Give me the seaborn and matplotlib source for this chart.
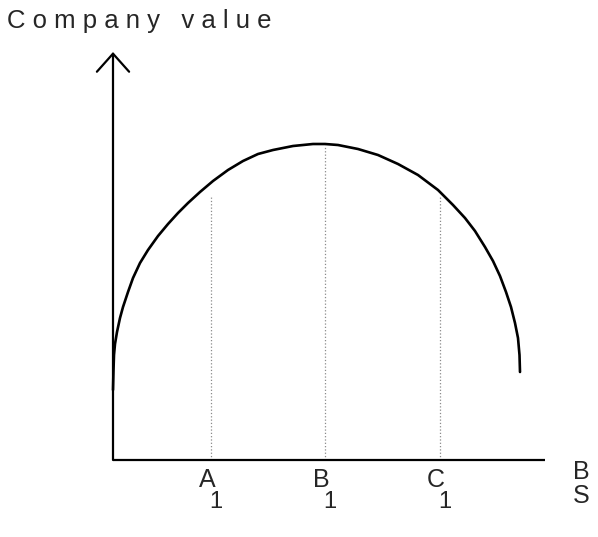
import numpy as np
import seaborn as sns
import matplotlib.pyplot as plt

# curve: x = distance along the axis, y = company value
curve_x = [0, 0.5, 1, 2, 4, 7, 10, 15, 20, 27, 35, 45, 55, 65, 75, 87, 100, 115,
           130, 145, 160, 180, 200, 212, 225, 245, 265, 285, 305, 325, 340, 352,
           362, 372, 380, 387, 393, 398, 402, 405, 406.5, 407]
curve_y = [70, 90, 105, 116, 128, 142, 153, 168, 182, 197, 210, 224, 236, 247, 257,
           268, 279, 290, 299, 306, 310, 314, 316, 316, 315, 311, 305, 296, 285,
           270, 255, 242, 229, 213, 199, 184, 168, 153, 137, 122, 105, 88]

# dotted markers on the x axis
mark_x = [98, 212, 327]
mark_top = [265, 315, 265]
mark_names = ["A", "B", "C"]

x_axis_end = 432
y_axis_end = 408

sns.set_theme(style="white")
plt.rcParams["font.family"] = ["Liberation Sans", "DejaVu Sans"]

fig = plt.figure(figsize=(5.98, 5.37), dpi=100)
ax = fig.add_axes([0, 0, 1, 1])
ax.set_xlim(-113, 485)
ax.set_ylim(-77, 460)
ax.axis("off")

sns.lineplot(x=curve_x, y=curve_y, sort=False, estimator=None, color="black",
             linewidth=1.9, ax=ax)

ax.vlines(mark_x, 0, mark_top, colors="#8a8a8a", linestyles=":", linewidth=0.9)

# axes
ax.plot([0, x_axis_end], [0, 0], color="black", linewidth=1.6, solid_capstyle="butt")
ax.annotate("", xy=(0, y_axis_end), xytext=(0, 0),
            arrowprops=dict(arrowstyle="->,head_length=0.65,head_width=0.58",
                            mutation_scale=20, color="black", linewidth=1.6,
                            shrinkA=0, shrinkB=0))

for name, xm in zip(mark_names, mark_x):
    ax.text(xm - 4, -20, name, fontsize=18, ha="center", va="center")
    ax.text(xm + 5, -42, "1", fontsize=17, ha="center", va="center")

ax.text(468, -12, "B", fontsize=18, ha="center", va="center")
ax.text(468, -36, "S", fontsize=18, ha="center", va="center")

ax.text(-106, 439, "C o m p a n y   v a l u e", fontsize=18.5, ha="left", va="center")

fig.savefig("out.png", dpi=100)
